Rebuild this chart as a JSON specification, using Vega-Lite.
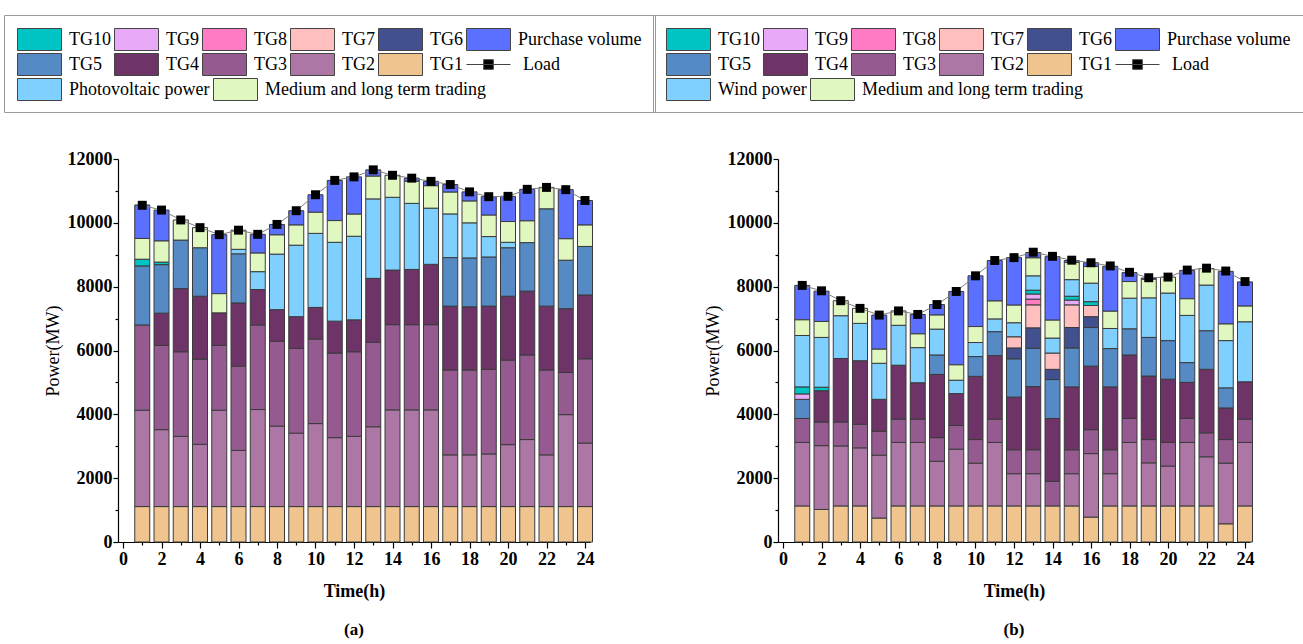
{
  "$schema": "https://vega.github.io/schema/vega-lite/v6.json",
  "background": "white",
  "padding": {"left": 3, "top": 14, "right": 2, "bottom": 2},
  "bounds": "flush",
  "spacing": 188,
  "resolve": {"scale": {"color": "independent", "fill": "independent", "x": "independent", "y": "independent"}},
  "config": {
    "font": "Liberation Serif",
    "view": {"stroke": null},
    "axis": {
      "domainColor": "#000", "tickColor": "#000", "labelColor": "#000", "titleColor": "#000",
      "labelFont": "Liberation Serif", "titleFont": "Liberation Serif",
      "labelFontSize": 18, "labelFontWeight": "bold", "titleFontSize": 18,
      "grid": false, "domainWidth": 1.2, "tickWidth": 1.2, "labelOverlap": false
    },
    "legend": {
      "orient": "none", "gridAlign": "each", "direction": "horizontal",
      "symbolSize": 1936, "symbolType": "M-1,-0.5H1V0.5H-1Z", "clipHeight": 23,
      "symbolStrokeColor": "#444", "symbolStrokeWidth": 1, "symbolOpacity": 1,
      "labelFont": "Liberation Serif", "labelFontSize": 18, "labelColor": "#000", "labelOffset": 7, "labelLimit": 400,
      "columnPadding": 3, "rowPadding": 2
    }
  },
  "hconcat": [
    {
      "width": 472, "height": 383,
      "title": {"text": "(a)", "orient": "bottom", "fontSize": 17, "fontWeight": "bold", "font": "Liberation Serif", "color": "#000", "offset": 22},
      "data": {"values": [
        {"h":1,"TG1":1110,"TG2":3020,"TG3":2670,"TG5":1850,"TG10":210,"Medium and long term trading":650,"Purchase volume":1050,"Load":10550},
        {"h":2,"TG1":1110,"TG2":2410,"TG3":2640,"TG4":1010,"TG5":1520,"TG10":80,"Medium and long term trading":660,"Purchase volume":970,"Load":10400},
        {"h":3,"TG1":1110,"TG2":2200,"TG3":2650,"TG4":1980,"TG5":1520,"Medium and long term trading":630,"Load":10090},
        {"h":4,"TG1":1110,"TG2":1950,"TG3":2670,"TG4":1970,"TG5":1520,"Medium and long term trading":630,"Load":9850},
        {"h":5,"TG1":1110,"TG2":3020,"TG3":2030,"TG4":1020,"Medium and long term trading":600,"Purchase volume":1850,"Load":9630},
        {"h":6,"TG1":1110,"TG2":1760,"TG3":2640,"TG4":1980,"TG5":1540,"Photovoltaic power":140,"Medium and long term trading":600,"Load":9770},
        {"h":7,"TG1":1110,"TG2":3040,"TG3":2650,"TG4":1110,"Photovoltaic power":560,"Medium and long term trading":580,"Purchase volume":590,"Load":9640},
        {"h":8,"TG1":1110,"TG2":2520,"TG3":2660,"TG4":990,"Photovoltaic power":1740,"Medium and long term trading":600,"Purchase volume":330,"Load":9950},
        {"h":9,"TG1":1110,"TG2":2300,"TG3":2660,"TG4":990,"Photovoltaic power":2240,"Medium and long term trading":630,"Purchase volume":450,"Load":10380},
        {"h":10,"TG1":1110,"TG2":2600,"TG3":2650,"TG4":990,"Photovoltaic power":2320,"Medium and long term trading":660,"Purchase volume":550,"Load":10880},
        {"h":11,"TG1":1110,"TG2":2160,"TG3":2650,"TG4":1000,"Photovoltaic power":2470,"Medium and long term trading":680,"Purchase volume":1260,"Load":11330},
        {"h":12,"TG1":1110,"TG2":2200,"TG3":2650,"TG4":1000,"Photovoltaic power":2620,"Medium and long term trading":690,"Purchase volume":1170,"Load":11440},
        {"h":13,"TG1":1110,"TG2":2500,"TG3":2650,"TG4":2000,"Photovoltaic power":2490,"Medium and long term trading":710,"Purchase volume":200,"Load":11660},
        {"h":14,"TG1":1110,"TG2":3030,"TG3":2670,"TG4":1710,"Photovoltaic power":2280,"Medium and long term trading":690,"Load":11490},
        {"h":15,"TG1":1110,"TG2":3030,"TG3":2670,"TG4":1730,"Photovoltaic power":2070,"Medium and long term trading":690,"Purchase volume":100,"Load":11400},
        {"h":16,"TG1":1110,"TG2":3030,"TG3":2670,"TG4":1890,"Photovoltaic power":1760,"Medium and long term trading":700,"Purchase volume":140,"Load":11300},
        {"h":17,"TG1":1110,"TG2":1620,"TG3":2660,"TG4":2000,"TG5":1520,"Photovoltaic power":1370,"Medium and long term trading":680,"Purchase volume":240,"Load":11200},
        {"h":18,"TG1":1110,"TG2":1620,"TG3":2660,"TG4":1980,"TG5":1530,"Photovoltaic power":1100,"Medium and long term trading":680,"Purchase volume":290,"Load":10970},
        {"h":19,"TG1":1110,"TG2":1650,"TG3":2650,"TG4":1980,"TG5":1540,"Photovoltaic power":640,"Medium and long term trading":670,"Purchase volume":580,"Load":10820},
        {"h":20,"TG1":1110,"TG2":1940,"TG3":2650,"TG4":2000,"TG5":1520,"Photovoltaic power":170,"Medium and long term trading":650,"Purchase volume":790,"Load":10830},
        {"h":21,"TG1":1110,"TG2":2100,"TG3":2650,"TG4":2000,"TG5":1520,"Medium and long term trading":680,"Purchase volume":990,"Load":11050},
        {"h":22,"TG1":1110,"TG2":1620,"TG3":2660,"TG4":2000,"TG5":3050,"Medium and long term trading":670,"Load":11110},
        {"h":23,"TG1":1110,"TG2":2880,"TG3":1320,"TG4":2000,"TG5":1520,"Medium and long term trading":670,"Purchase volume":1540,"Load":11040},
        {"h":24,"TG1":1110,"TG2":1990,"TG3":2640,"TG4":2000,"TG5":1520,"Medium and long term trading":670,"Purchase volume":770,"Load":10700}
      ]},
      "encoding": {
        "x": {"field": "h", "type": "quantitative", "scale": {"domain": [0, 24], "nice": false},
          "axis": {"title": "Time(h)", "titleFontWeight": "bold", "values": [0,1,2,3,4,5,6,7,8,9,10,11,12,13,14,15,16,17,18,19,20,21,22,23,24],
            "labelExpr": "datum.value % 2 === 0 ? datum.label : ''",
            "tickSize": {"condition": {"test": "datum.value % 2 === 0", "value": 6}, "value": 3},
            "labelPadding": 2, "titlePadding": 14, "labelFlush": false}}
      },
      "layer": [
        {
          "transform": [
            {"fold": ["TG1","TG2","TG3","TG4","TG5","TG6","TG7","TG8","TG9","TG10","Photovoltaic power","Medium and long term trading","Purchase volume"], "as": ["key", "value"]},
            {"filter": "datum.value > 0"},
            {"calculate": "indexof(['TG1','TG2','TG3','TG4','TG5','TG6','TG7','TG8','TG9','TG10','Photovoltaic power','Medium and long term trading','Purchase volume'], datum.key)", "as": "rank"},
            {"stack": "value", "groupby": ["h"], "sort": [{"field": "rank", "order": "ascending"}], "as": ["y0", "y1"]},
            {"filter": "datum.rank < 10 || datum.rank === 12"}
          ],
          "mark": {"type": "bar", "size": 15, "stroke": "#3a3a3a", "strokeWidth": 1},
          "encoding": {
            "y": {"field": "y0", "type": "quantitative", "scale": {"domain": [0, 12000], "nice": false},
              "axis": {"title": "Power(MW)", "titleFontWeight": "normal", "values": [0,1000,2000,3000,4000,5000,6000,7000,8000,9000,10000,11000,12000], "format": "d",
                "labelExpr": "datum.value % 2000 === 0 ? datum.label : ''",
                "tickSize": {"condition": {"test": "datum.value % 2000 === 0", "value": 5}, "value": 3},
                "labelPadding": 1, "titlePadding": 5}},
            "y2": {"field": "y1"},
            "color": {"field": "key", "type": "nominal",
              "scale": {"domain": ["TG10","TG9","TG8","TG7","TG6","Purchase volume","TG5","TG4","TG3","TG2","TG1","Load"],
                "range": ["#00C4C4","#E9A9F9","#FF7CC4","#FFBFBF","#43508F","#5C70FF","#558AC4","#6E3468","#955B91","#AD77A5","#F0C48E","#000000"]},
              "legend": {"legendX": -114, "legendY": -144, "columns": 6, "padding": 13, "strokeColor": "#9a9a9a",
                "title": " ", "titleOrient": "bottom", "titleFontSize": 22, "titlePadding": 2,
                "encode": {
                  "symbols": {"update": {"shape": {"signal": "datum.value === 'Load' ? 'M-1,0H1M-0.22,-0.22H0.22V0.22H-0.22Z' : 'M-1,-0.5H1V0.5H-1Z'"}}},
                  "labels": {"update": {"dx": {"signal": "datum.value === 'Load' ? 5 : 0"}}}
                }}}
          }
        },
        {
          "transform": [
            {"fold": ["TG1","TG2","TG3","TG4","TG5","TG6","TG7","TG8","TG9","TG10","Photovoltaic power","Medium and long term trading","Purchase volume"], "as": ["key", "value"]},
            {"filter": "datum.value > 0"},
            {"calculate": "indexof(['TG1','TG2','TG3','TG4','TG5','TG6','TG7','TG8','TG9','TG10','Photovoltaic power','Medium and long term trading','Purchase volume'], datum.key)", "as": "rank"},
            {"stack": "value", "groupby": ["h"], "sort": [{"field": "rank", "order": "ascending"}], "as": ["y0", "y1"]},
            {"filter": "datum.rank === 10 || datum.rank === 11"}
          ],
          "mark": {"type": "bar", "size": 15, "stroke": "#3a3a3a", "strokeWidth": 1},
          "encoding": {
            "y": {"field": "y0", "type": "quantitative", "scale": {"domain": [0, 12000], "nice": false},
              "axis": {"title": "Power(MW)", "titleFontWeight": "normal", "values": [0,1000,2000,3000,4000,5000,6000,7000,8000,9000,10000,11000,12000], "format": "d",
                "labelExpr": "datum.value % 2000 === 0 ? datum.label : ''",
                "tickSize": {"condition": {"test": "datum.value % 2000 === 0", "value": 5}, "value": 3},
                "labelPadding": 1, "titlePadding": 5}},
            "y2": {"field": "y1"},
            "fill": {"field": "key", "type": "nominal",
              "scale": {"domain": ["Photovoltaic power","Medium and long term trading"], "range": ["#80D0FF","#E0F8C0"]},
              "legend": {"legendX": -101, "legendY": -81, "columns": 2, "padding": 0, "title": null}}
          }
        },
        {
          "mark": {"type": "line", "color": "#808080", "strokeWidth": 1},
          "encoding": {
            "y": {"field": "Load", "type": "quantitative", "scale": {"domain": [0, 12000], "nice": false},
              "axis": {"title": "Power(MW)", "titleFontWeight": "normal", "values": [0,1000,2000,3000,4000,5000,6000,7000,8000,9000,10000,11000,12000], "format": "d",
                "labelExpr": "datum.value % 2000 === 0 ? datum.label : ''",
                "tickSize": {"condition": {"test": "datum.value % 2000 === 0", "value": 5}, "value": 3},
                "labelPadding": 1, "titlePadding": 5}}
          }
        },
        {
          "mark": {"type": "point", "shape": "square", "filled": true, "color": "#000000", "size": 80, "opacity": 1},
          "encoding": {
            "y": {"field": "Load", "type": "quantitative", "scale": {"domain": [0, 12000], "nice": false},
              "axis": {"title": "Power(MW)", "titleFontWeight": "normal", "values": [0,1000,2000,3000,4000,5000,6000,7000,8000,9000,10000,11000,12000], "format": "d",
                "labelExpr": "datum.value % 2000 === 0 ? datum.label : ''",
                "tickSize": {"condition": {"test": "datum.value % 2000 === 0", "value": 5}, "value": 3},
                "labelPadding": 1, "titlePadding": 5}}
          }
        }
      ]
    },
    {
      "width": 472, "height": 383,
      "title": {"text": "(b)", "orient": "bottom", "fontSize": 17, "fontWeight": "bold", "font": "Liberation Serif", "color": "#000", "offset": 22},
      "data": {"values": [
        {"h":1,"TG1":1130,"TG2":1990,"TG3":750,"TG5":600,"TG9":170,"TG10":220,"Wind power":1610,"Medium and long term trading":490,"Purchase volume":1080,"Load":8040},
        {"h":2,"TG1":1020,"TG2":2000,"TG3":740,"TG4":980,"TG10":110,"Wind power":1560,"Medium and long term trading":500,"Purchase volume":950,"Load":7870},
        {"h":3,"TG1":1130,"TG2":1880,"TG3":750,"TG4":1990,"Wind power":1340,"Medium and long term trading":470,"Load":7560},
        {"h":4,"TG1":1130,"TG2":1820,"TG3":740,"TG4":1990,"Wind power":1170,"Medium and long term trading":470,"Load":7320},
        {"h":5,"TG1":750,"TG2":1970,"TG3":750,"TG4":1000,"Wind power":1130,"Medium and long term trading":440,"Purchase volume":1070,"Load":7110},
        {"h":6,"TG1":1130,"TG2":1990,"TG3":730,"TG4":1690,"Wind power":1250,"Medium and long term trading":450,"Load":7240},
        {"h":7,"TG1":1130,"TG2":1990,"TG3":730,"TG4":1140,"Wind power":1100,"Medium and long term trading":430,"Purchase volume":610,"Load":7130},
        {"h":8,"TG1":1130,"TG2":1400,"TG3":740,"TG4":1980,"TG5":610,"Wind power":810,"Medium and long term trading":440,"Purchase volume":330,"Load":7440},
        {"h":9,"TG1":1130,"TG2":1780,"TG3":740,"TG4":1000,"Wind power":420,"Medium and long term trading":480,"Purchase volume":2300,"Load":7850},
        {"h":10,"TG1":1130,"TG2":1340,"TG3":740,"TG4":1980,"TG5":620,"Wind power":440,"Medium and long term trading":500,"Purchase volume":1590,"Load":8340},
        {"h":11,"TG1":1130,"TG2":1990,"TG3":730,"TG4":1990,"TG5":750,"Wind power":400,"Medium and long term trading":560,"Purchase volume":1270,"Load":8820},
        {"h":12,"TG1":1130,"TG2":1010,"TG3":750,"TG4":1650,"TG5":1200,"TG6":340,"TG7":350,"Wind power":440,"Medium and long term trading":550,"Purchase volume":1490,"Load":8910},
        {"h":13,"TG1":1130,"TG2":1010,"TG3":750,"TG4":1980,"TG5":1200,"TG6":640,"TG7":720,"TG8":180,"TG9":160,"TG10":120,"Wind power":450,"Medium and long term trading":560,"Purchase volume":170,"Load":9080},
        {"h":14,"TG1":1130,"TG3":770,"TG4":1970,"TG5":1220,"TG6":320,"TG7":510,"Wind power":470,"Medium and long term trading":560,"Purchase volume":1990,"Load":8950},
        {"h":15,"TG1":1130,"TG2":1010,"TG3":750,"TG4":1970,"TG5":1220,"TG6":640,"TG7":710,"TG9":150,"TG10":120,"Wind power":520,"Medium and long term trading":540,"Purchase volume":60,"Load":8830},
        {"h":16,"TG1":780,"TG2":1990,"TG3":750,"TG4":1990,"TG5":1210,"TG6":340,"TG7":350,"TG10":120,"Wind power":580,"Medium and long term trading":520,"Purchase volume":120,"Load":8750},
        {"h":17,"TG1":1130,"TG2":1010,"TG3":750,"TG4":1970,"TG5":1200,"Wind power":630,"Medium and long term trading":540,"Purchase volume":1410,"Load":8650},
        {"h":18,"TG1":1130,"TG2":1990,"TG3":750,"TG4":1990,"TG5":820,"Wind power":960,"Medium and long term trading":520,"Purchase volume":280,"Load":8450},
        {"h":19,"TG1":1130,"TG2":1350,"TG3":730,"TG4":1990,"TG5":1210,"Wind power":1240,"Medium and long term trading":580,"Purchase volume":40,"Load":8280},
        {"h":20,"TG1":1130,"TG2":1250,"TG3":740,"TG4":1980,"TG5":1210,"Wind power":1490,"Medium and long term trading":500,"Load":8300},
        {"h":21,"TG1":1130,"TG2":1990,"TG3":750,"TG4":1130,"TG5":620,"Wind power":1480,"Medium and long term trading":520,"Purchase volume":890,"Load":8520},
        {"h":22,"TG1":1130,"TG2":1540,"TG3":750,"TG4":1990,"TG5":1210,"Wind power":1430,"Medium and long term trading":520,"Load":8580},
        {"h":23,"TG1":570,"TG2":1900,"TG3":740,"TG4":990,"TG5":630,"Wind power":1480,"Medium and long term trading":520,"Purchase volume":1650,"Load":8490},
        {"h":24,"TG1":1130,"TG2":1990,"TG3":730,"TG4":1170,"Wind power":1880,"Medium and long term trading":490,"Purchase volume":760,"Load":8160}
      ]},
      "encoding": {
        "x": {"field": "h", "type": "quantitative", "scale": {"domain": [0, 24], "nice": false},
          "axis": {"title": "Time(h)", "titleFontWeight": "bold", "values": [0,1,2,3,4,5,6,7,8,9,10,11,12,13,14,15,16,17,18,19,20,21,22,23,24],
            "labelExpr": "datum.value % 2 === 0 ? datum.label : ''",
            "tickSize": {"condition": {"test": "datum.value % 2 === 0", "value": 6}, "value": 3},
            "labelPadding": 2, "titlePadding": 14, "labelFlush": false}}
      },
      "layer": [
        {
          "transform": [
            {"fold": ["TG1","TG2","TG3","TG4","TG5","TG6","TG7","TG8","TG9","TG10","Wind power","Medium and long term trading","Purchase volume"], "as": ["key", "value"]},
            {"filter": "datum.value > 0"},
            {"calculate": "indexof(['TG1','TG2','TG3','TG4','TG5','TG6','TG7','TG8','TG9','TG10','Wind power','Medium and long term trading','Purchase volume'], datum.key)", "as": "rank"},
            {"stack": "value", "groupby": ["h"], "sort": [{"field": "rank", "order": "ascending"}], "as": ["y0", "y1"]},
            {"filter": "datum.rank < 10 || datum.rank === 12"}
          ],
          "mark": {"type": "bar", "size": 15, "stroke": "#3a3a3a", "strokeWidth": 1},
          "encoding": {
            "y": {"field": "y0", "type": "quantitative", "scale": {"domain": [0, 12000], "nice": false},
              "axis": {"title": "Power(MW)", "titleFontWeight": "normal", "values": [0,1000,2000,3000,4000,5000,6000,7000,8000,9000,10000,11000,12000], "format": "d",
                "labelExpr": "datum.value % 2000 === 0 ? datum.label : ''",
                "tickSize": {"condition": {"test": "datum.value % 2000 === 0", "value": 5}, "value": 3},
                "labelPadding": 1, "titlePadding": 5}},
            "y2": {"field": "y1"},
            "color": {"field": "key", "type": "nominal",
              "scale": {"domain": ["TG10","TG9","TG8","TG7","TG6","Purchase volume","TG5","TG4","TG3","TG2","TG1","Load"],
                "range": ["#00C4C4","#E9A9F9","#FF7CC4","#FFBFBF","#43508F","#5C70FF","#558AC4","#6E3468","#955B91","#AD77A5","#F0C48E","#000000"]},
              "legend": {"legendX": -125, "legendY": -144, "columns": 6, "padding": 13, "strokeColor": "#9a9a9a",
                "title": " ", "titleOrient": "bottom", "titleFontSize": 22, "titlePadding": 2,
                "encode": {
                  "symbols": {"update": {"shape": {"signal": "datum.value === 'Load' ? 'M-1,0H1M-0.22,-0.22H0.22V0.22H-0.22Z' : 'M-1,-0.5H1V0.5H-1Z'"}}},
                  "labels": {"update": {"dx": {"signal": "datum.value === 'Load' ? 5 : 0"}}}
                }}}
          }
        },
        {
          "transform": [
            {"fold": ["TG1","TG2","TG3","TG4","TG5","TG6","TG7","TG8","TG9","TG10","Wind power","Medium and long term trading","Purchase volume"], "as": ["key", "value"]},
            {"filter": "datum.value > 0"},
            {"calculate": "indexof(['TG1','TG2','TG3','TG4','TG5','TG6','TG7','TG8','TG9','TG10','Wind power','Medium and long term trading','Purchase volume'], datum.key)", "as": "rank"},
            {"stack": "value", "groupby": ["h"], "sort": [{"field": "rank", "order": "ascending"}], "as": ["y0", "y1"]},
            {"filter": "datum.rank === 10 || datum.rank === 11"}
          ],
          "mark": {"type": "bar", "size": 15, "stroke": "#3a3a3a", "strokeWidth": 1},
          "encoding": {
            "y": {"field": "y0", "type": "quantitative", "scale": {"domain": [0, 12000], "nice": false},
              "axis": {"title": "Power(MW)", "titleFontWeight": "normal", "values": [0,1000,2000,3000,4000,5000,6000,7000,8000,9000,10000,11000,12000], "format": "d",
                "labelExpr": "datum.value % 2000 === 0 ? datum.label : ''",
                "tickSize": {"condition": {"test": "datum.value % 2000 === 0", "value": 5}, "value": 3},
                "labelPadding": 1, "titlePadding": 5}},
            "y2": {"field": "y1"},
            "fill": {"field": "key", "type": "nominal",
              "scale": {"domain": ["Wind power","Medium and long term trading"], "range": ["#80D0FF","#E0F8C0"]},
              "legend": {"legendX": -112, "legendY": -81, "columns": 2, "padding": 0, "title": null}}
          }
        },
        {
          "mark": {"type": "line", "color": "#808080", "strokeWidth": 1},
          "encoding": {
            "y": {"field": "Load", "type": "quantitative", "scale": {"domain": [0, 12000], "nice": false},
              "axis": {"title": "Power(MW)", "titleFontWeight": "normal", "values": [0,1000,2000,3000,4000,5000,6000,7000,8000,9000,10000,11000,12000], "format": "d",
                "labelExpr": "datum.value % 2000 === 0 ? datum.label : ''",
                "tickSize": {"condition": {"test": "datum.value % 2000 === 0", "value": 5}, "value": 3},
                "labelPadding": 1, "titlePadding": 5}}
          }
        },
        {
          "mark": {"type": "point", "shape": "square", "filled": true, "color": "#000000", "size": 80, "opacity": 1},
          "encoding": {
            "y": {"field": "Load", "type": "quantitative", "scale": {"domain": [0, 12000], "nice": false},
              "axis": {"title": "Power(MW)", "titleFontWeight": "normal", "values": [0,1000,2000,3000,4000,5000,6000,7000,8000,9000,10000,11000,12000], "format": "d",
                "labelExpr": "datum.value % 2000 === 0 ? datum.label : ''",
                "tickSize": {"condition": {"test": "datum.value % 2000 === 0", "value": 5}, "value": 3},
                "labelPadding": 1, "titlePadding": 5}}
          }
        }
      ]
    }
  ]
}
